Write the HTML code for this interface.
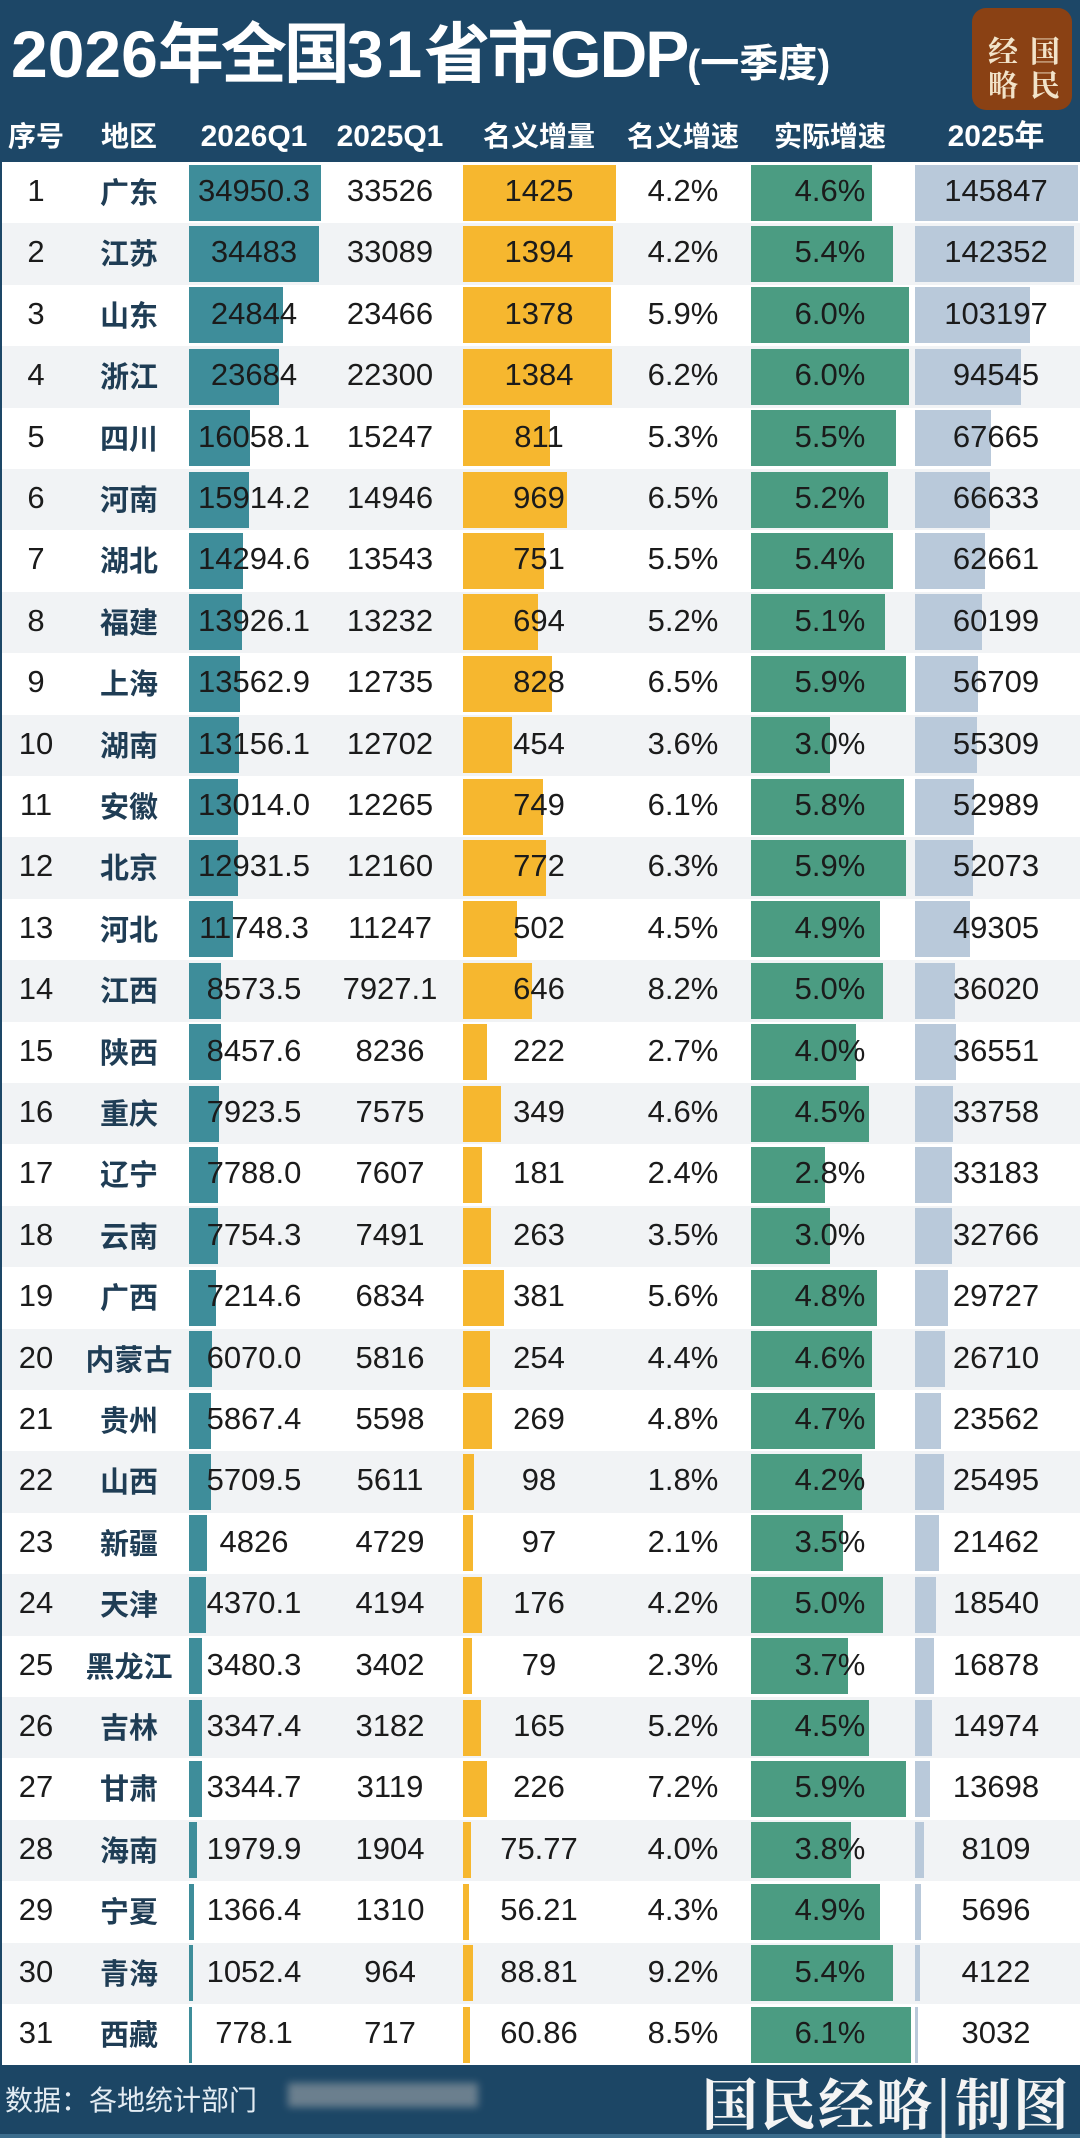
<!DOCTYPE html>
<html><head><meta charset="utf-8">
<style>
*{margin:0;padding:0;box-sizing:border-box}
html,body{width:1080px;height:2138px;overflow:hidden;background:#fff}
body{position:relative;font-family:"Liberation Sans","Noto Sans CJK SC",sans-serif}
#hd{position:absolute;left:0;top:0;width:1080px;height:162px;background:#1d4767}
#title{position:absolute;left:11px;top:21px;white-space:nowrap;color:#fff;font-weight:bold;font-size:66px;line-height:66px;font-family:"Liberation Sans","Noto Sans CJK SC",sans-serif}
#title .c{letter-spacing:-3px}
#title .s{font-size:39px;letter-spacing:0}
#logo{position:absolute;left:972px;top:8px;width:100px;height:102px;border-radius:14px;background:#8a4114}
#logo span{position:absolute;width:34px;text-align:center;font-family:"Noto Serif CJK SC","Liberation Serif",serif;font-size:30px;line-height:34px;color:#f2e3c9;font-weight:bold}
.hl{position:absolute;top:112px;height:50px;line-height:50px;text-align:center;color:#fff;font-weight:bold;font-size:30px;white-space:nowrap}
.hl.k{font-size:28px}
#lb{position:absolute;left:0;top:162px;width:2px;height:1903px;background:#1d4767;z-index:5}
.r{position:absolute;left:0;width:1080px;height:61.4px}
.r.g{background:#f1f3f5}
.b{position:absolute;top:2.5px;height:56px;display:block}
.bt{left:189px;background:#3e8d9a}
.bo{left:463px;background:#f6b72f}
.bg{left:751px;background:#4b9c82}
.bl{left:915px;background:#b9c9da}
.r span{position:absolute;top:0;height:61px;line-height:58px;text-align:center;white-space:nowrap;font-size:31px;color:#1b1b1b}
.n0{left:0;width:72px}
.r span.n1{left:74px;width:110px;font-family:"Noto Sans CJK SC",sans-serif;font-weight:bold;font-size:29px;color:#1f3d55}
.n2{left:174px;width:160px}
.n3{left:310px;width:160px}
.n4{left:459px;width:160px}
.n5{left:603px;width:160px}
.n6{left:750px;width:160px}
.n7{left:916px;width:160px}
#ft{position:absolute;left:0;top:2065px;width:1080px;height:73px;background:#1c4665;border-bottom:4px solid #3b6c8c}
#src{position:absolute;left:5px;top:14px;font-family:"Noto Sans CJK SC",sans-serif;font-size:28px;line-height:40px;color:#e3ecf3;white-space:nowrap}
#blur{position:absolute;left:288px;top:18px;width:190px;height:24px;background:#7f8e99;filter:blur(4px);opacity:.8}
#brand{position:absolute;left:702px;top:6px;font-family:"Noto Serif CJK SC","Liberation Serif",serif;font-weight:bold;font-size:56px;line-height:62px;color:#f4f4f4;letter-spacing:2px;white-space:nowrap}
</style></head><body>
<div id="hd">
<div id="title">2026<span class="c">年全国</span><span style="letter-spacing:2px">31</span><span class="c">省市</span><span style="letter-spacing:-2px">GDP</span><span class="s">(一季度)</span></div>
<div id="logo"><span style="left:14px;top:24px">经</span><span style="left:56px;top:24px">国</span><span style="left:14px;top:58px">略</span><span style="left:56px;top:58px">民</span></div>
<div class="hl k" style="left:0;width:72px">序号</div>
<div class="hl k" style="left:74px;width:110px">地区</div>
<div class="hl" style="left:174px;width:160px">2026Q1</div>
<div class="hl" style="left:310px;width:160px">2025Q1</div>
<div class="hl k" style="left:459px;width:160px">名义增量</div>
<div class="hl k" style="left:603px;width:160px">名义增速</div>
<div class="hl k" style="left:750px;width:160px">实际增速</div>
<div class="hl" style="left:916px;width:160px">2025年</div>
</div>

<div class="r" style="top:162px"><i class="b bt" style="width:132px"></i><i class="b bo" style="width:153px"></i><i class="b bg" style="width:121px"></i><i class="b bl" style="width:163px"></i><span class="n0">1</span><span class="n1">广东</span><span class="n2">34950.3</span><span class="n3">33526</span><span class="n4">1425</span><span class="n5">4.2%</span><span class="n6">4.6%</span><span class="n7">145847</span></div>
<div class="r g" style="top:223.4px"><i class="b bt" style="width:130.2px"></i><i class="b bo" style="width:149.7px"></i><i class="b bg" style="width:142px"></i><i class="b bl" style="width:159.1px"></i><span class="n0">2</span><span class="n1">江苏</span><span class="n2">34483</span><span class="n3">33089</span><span class="n4">1394</span><span class="n5">4.2%</span><span class="n6">5.4%</span><span class="n7">142352</span></div>
<div class="r" style="top:284.8px"><i class="b bt" style="width:93.8px"></i><i class="b bo" style="width:148px"></i><i class="b bg" style="width:157.8px"></i><i class="b bl" style="width:115.3px"></i><span class="n0">3</span><span class="n1">山东</span><span class="n2">24844</span><span class="n3">23466</span><span class="n4">1378</span><span class="n5">5.9%</span><span class="n6">6.0%</span><span class="n7">103197</span></div>
<div class="r g" style="top:346.2px"><i class="b bt" style="width:89.5px"></i><i class="b bo" style="width:148.6px"></i><i class="b bg" style="width:157.8px"></i><i class="b bl" style="width:105.7px"></i><span class="n0">4</span><span class="n1">浙江</span><span class="n2">23684</span><span class="n3">22300</span><span class="n4">1384</span><span class="n5">6.2%</span><span class="n6">6.0%</span><span class="n7">94545</span></div>
<div class="r" style="top:407.6px"><i class="b bt" style="width:60.7px"></i><i class="b bo" style="width:87.1px"></i><i class="b bg" style="width:144.7px"></i><i class="b bl" style="width:75.6px"></i><span class="n0">5</span><span class="n1">四川</span><span class="n2">16058.1</span><span class="n3">15247</span><span class="n4">811</span><span class="n5">5.3%</span><span class="n6">5.5%</span><span class="n7">67665</span></div>
<div class="r g" style="top:469px"><i class="b bt" style="width:60.1px"></i><i class="b bo" style="width:104.1px"></i><i class="b bg" style="width:136.8px"></i><i class="b bl" style="width:74.5px"></i><span class="n0">6</span><span class="n1">河南</span><span class="n2">15914.2</span><span class="n3">14946</span><span class="n4">969</span><span class="n5">6.5%</span><span class="n6">5.2%</span><span class="n7">66633</span></div>
<div class="r" style="top:530.4px"><i class="b bt" style="width:54px"></i><i class="b bo" style="width:80.7px"></i><i class="b bg" style="width:142px"></i><i class="b bl" style="width:70px"></i><span class="n0">7</span><span class="n1">湖北</span><span class="n2">14294.6</span><span class="n3">13543</span><span class="n4">751</span><span class="n5">5.5%</span><span class="n6">5.4%</span><span class="n7">62661</span></div>
<div class="r g" style="top:591.8px"><i class="b bt" style="width:52.6px"></i><i class="b bo" style="width:74.5px"></i><i class="b bg" style="width:134.1px"></i><i class="b bl" style="width:67.3px"></i><span class="n0">8</span><span class="n1">福建</span><span class="n2">13926.1</span><span class="n3">13232</span><span class="n4">694</span><span class="n5">5.2%</span><span class="n6">5.1%</span><span class="n7">60199</span></div>
<div class="r" style="top:653.2px"><i class="b bt" style="width:51.2px"></i><i class="b bo" style="width:88.9px"></i><i class="b bg" style="width:155.2px"></i><i class="b bl" style="width:63.4px"></i><span class="n0">9</span><span class="n1">上海</span><span class="n2">13562.9</span><span class="n3">12735</span><span class="n4">828</span><span class="n5">6.5%</span><span class="n6">5.9%</span><span class="n7">56709</span></div>
<div class="r g" style="top:714.6px"><i class="b bt" style="width:49.7px"></i><i class="b bo" style="width:48.8px"></i><i class="b bg" style="width:78.9px"></i><i class="b bl" style="width:61.8px"></i><span class="n0">10</span><span class="n1">湖南</span><span class="n2">13156.1</span><span class="n3">12702</span><span class="n4">454</span><span class="n5">3.6%</span><span class="n6">3.0%</span><span class="n7">55309</span></div>
<div class="r" style="top:776px"><i class="b bt" style="width:49.2px"></i><i class="b bo" style="width:80.4px"></i><i class="b bg" style="width:152.5px"></i><i class="b bl" style="width:59.2px"></i><span class="n0">11</span><span class="n1">安徽</span><span class="n2">13014.0</span><span class="n3">12265</span><span class="n4">749</span><span class="n5">6.1%</span><span class="n6">5.8%</span><span class="n7">52989</span></div>
<div class="r g" style="top:837.4px"><i class="b bt" style="width:48.8px"></i><i class="b bo" style="width:82.9px"></i><i class="b bg" style="width:155.2px"></i><i class="b bl" style="width:58.2px"></i><span class="n0">12</span><span class="n1">北京</span><span class="n2">12931.5</span><span class="n3">12160</span><span class="n4">772</span><span class="n5">6.3%</span><span class="n6">5.9%</span><span class="n7">52073</span></div>
<div class="r" style="top:898.8px"><i class="b bt" style="width:44.4px"></i><i class="b bo" style="width:53.9px"></i><i class="b bg" style="width:128.9px"></i><i class="b bl" style="width:55.1px"></i><span class="n0">13</span><span class="n1">河北</span><span class="n2">11748.3</span><span class="n3">11247</span><span class="n4">502</span><span class="n5">4.5%</span><span class="n6">4.9%</span><span class="n7">49305</span></div>
<div class="r g" style="top:960.2px"><i class="b bt" style="width:32.4px"></i><i class="b bo" style="width:69.4px"></i><i class="b bg" style="width:131.5px"></i><i class="b bl" style="width:40.3px"></i><span class="n0">14</span><span class="n1">江西</span><span class="n2">8573.5</span><span class="n3">7927.1</span><span class="n4">646</span><span class="n5">8.2%</span><span class="n6">5.0%</span><span class="n7">36020</span></div>
<div class="r" style="top:1021.6px"><i class="b bt" style="width:31.9px"></i><i class="b bo" style="width:23.8px"></i><i class="b bg" style="width:105.2px"></i><i class="b bl" style="width:40.8px"></i><span class="n0">15</span><span class="n1">陕西</span><span class="n2">8457.6</span><span class="n3">8236</span><span class="n4">222</span><span class="n5">2.7%</span><span class="n6">4.0%</span><span class="n7">36551</span></div>
<div class="r g" style="top:1083px"><i class="b bt" style="width:29.9px"></i><i class="b bo" style="width:37.5px"></i><i class="b bg" style="width:118.4px"></i><i class="b bl" style="width:37.7px"></i><span class="n0">16</span><span class="n1">重庆</span><span class="n2">7923.5</span><span class="n3">7575</span><span class="n4">349</span><span class="n5">4.6%</span><span class="n6">4.5%</span><span class="n7">33758</span></div>
<div class="r" style="top:1144.4px"><i class="b bt" style="width:29.4px"></i><i class="b bo" style="width:19.4px"></i><i class="b bg" style="width:73.6px"></i><i class="b bl" style="width:37.1px"></i><span class="n0">17</span><span class="n1">辽宁</span><span class="n2">7788.0</span><span class="n3">7607</span><span class="n4">181</span><span class="n5">2.4%</span><span class="n6">2.8%</span><span class="n7">33183</span></div>
<div class="r g" style="top:1205.8px"><i class="b bt" style="width:29.3px"></i><i class="b bo" style="width:28.2px"></i><i class="b bg" style="width:78.9px"></i><i class="b bl" style="width:36.6px"></i><span class="n0">18</span><span class="n1">云南</span><span class="n2">7754.3</span><span class="n3">7491</span><span class="n4">263</span><span class="n5">3.5%</span><span class="n6">3.0%</span><span class="n7">32766</span></div>
<div class="r" style="top:1267.2px"><i class="b bt" style="width:27.2px"></i><i class="b bo" style="width:40.9px"></i><i class="b bg" style="width:126.2px"></i><i class="b bl" style="width:33.2px"></i><span class="n0">19</span><span class="n1">广西</span><span class="n2">7214.6</span><span class="n3">6834</span><span class="n4">381</span><span class="n5">5.6%</span><span class="n6">4.8%</span><span class="n7">29727</span></div>
<div class="r g" style="top:1328.6px"><i class="b bt" style="width:22.9px"></i><i class="b bo" style="width:27.3px"></i><i class="b bg" style="width:121px"></i><i class="b bl" style="width:29.9px"></i><span class="n0">20</span><span class="n1">内蒙古</span><span class="n2">6070.0</span><span class="n3">5816</span><span class="n4">254</span><span class="n5">4.4%</span><span class="n6">4.6%</span><span class="n7">26710</span></div>
<div class="r" style="top:1390px"><i class="b bt" style="width:22.2px"></i><i class="b bo" style="width:28.9px"></i><i class="b bg" style="width:123.6px"></i><i class="b bl" style="width:26.3px"></i><span class="n0">21</span><span class="n1">贵州</span><span class="n2">5867.4</span><span class="n3">5598</span><span class="n4">269</span><span class="n5">4.8%</span><span class="n6">4.7%</span><span class="n7">23562</span></div>
<div class="r g" style="top:1451.4px"><i class="b bt" style="width:21.6px"></i><i class="b bo" style="width:10.5px"></i><i class="b bg" style="width:110.5px"></i><i class="b bl" style="width:28.5px"></i><span class="n0">22</span><span class="n1">山西</span><span class="n2">5709.5</span><span class="n3">5611</span><span class="n4">98</span><span class="n5">1.8%</span><span class="n6">4.2%</span><span class="n7">25495</span></div>
<div class="r" style="top:1512.8px"><i class="b bt" style="width:18.2px"></i><i class="b bo" style="width:10.4px"></i><i class="b bg" style="width:92.1px"></i><i class="b bl" style="width:24px"></i><span class="n0">23</span><span class="n1">新疆</span><span class="n2">4826</span><span class="n3">4729</span><span class="n4">97</span><span class="n5">2.1%</span><span class="n6">3.5%</span><span class="n7">21462</span></div>
<div class="r g" style="top:1574.2px"><i class="b bt" style="width:16.5px"></i><i class="b bo" style="width:18.9px"></i><i class="b bg" style="width:131.5px"></i><i class="b bl" style="width:20.7px"></i><span class="n0">24</span><span class="n1">天津</span><span class="n2">4370.1</span><span class="n3">4194</span><span class="n4">176</span><span class="n5">4.2%</span><span class="n6">5.0%</span><span class="n7">18540</span></div>
<div class="r" style="top:1635.6px"><i class="b bt" style="width:13.1px"></i><i class="b bo" style="width:8.5px"></i><i class="b bg" style="width:97.3px"></i><i class="b bl" style="width:18.9px"></i><span class="n0">25</span><span class="n1">黑龙江</span><span class="n2">3480.3</span><span class="n3">3402</span><span class="n4">79</span><span class="n5">2.3%</span><span class="n6">3.7%</span><span class="n7">16878</span></div>
<div class="r g" style="top:1697px"><i class="b bt" style="width:12.6px"></i><i class="b bo" style="width:17.7px"></i><i class="b bg" style="width:118.4px"></i><i class="b bl" style="width:16.7px"></i><span class="n0">26</span><span class="n1">吉林</span><span class="n2">3347.4</span><span class="n3">3182</span><span class="n4">165</span><span class="n5">5.2%</span><span class="n6">4.5%</span><span class="n7">14974</span></div>
<div class="r" style="top:1758.4px"><i class="b bt" style="width:12.6px"></i><i class="b bo" style="width:24.3px"></i><i class="b bg" style="width:155.2px"></i><i class="b bl" style="width:15.3px"></i><span class="n0">27</span><span class="n1">甘肃</span><span class="n2">3344.7</span><span class="n3">3119</span><span class="n4">226</span><span class="n5">7.2%</span><span class="n6">5.9%</span><span class="n7">13698</span></div>
<div class="r g" style="top:1819.8px"><i class="b bt" style="width:7.5px"></i><i class="b bo" style="width:8.1px"></i><i class="b bg" style="width:99.9px"></i><i class="b bl" style="width:9.1px"></i><span class="n0">28</span><span class="n1">海南</span><span class="n2">1979.9</span><span class="n3">1904</span><span class="n4">75.77</span><span class="n5">4.0%</span><span class="n6">3.8%</span><span class="n7">8109</span></div>
<div class="r" style="top:1881.2px"><i class="b bt" style="width:5.2px"></i><i class="b bo" style="width:6px"></i><i class="b bg" style="width:128.9px"></i><i class="b bl" style="width:6.4px"></i><span class="n0">29</span><span class="n1">宁夏</span><span class="n2">1366.4</span><span class="n3">1310</span><span class="n4">56.21</span><span class="n5">4.3%</span><span class="n6">4.9%</span><span class="n7">5696</span></div>
<div class="r g" style="top:1942.6px"><i class="b bt" style="width:4px"></i><i class="b bo" style="width:9.5px"></i><i class="b bg" style="width:142px"></i><i class="b bl" style="width:4.6px"></i><span class="n0">30</span><span class="n1">青海</span><span class="n2">1052.4</span><span class="n3">964</span><span class="n4">88.81</span><span class="n5">9.2%</span><span class="n6">5.4%</span><span class="n7">4122</span></div>
<div class="r" style="top:2004px"><i class="b bt" style="width:3px"></i><i class="b bo" style="width:6.5px"></i><i class="b bg" style="width:160.4px"></i><i class="b bl" style="width:3.4px"></i><span class="n0">31</span><span class="n1">西藏</span><span class="n2">778.1</span><span class="n3">717</span><span class="n4">60.86</span><span class="n5">8.5%</span><span class="n6">6.1%</span><span class="n7">3032</span></div>
<div id="lb"></div>

<div id="ft">
<div id="src">数据：各地统计部门</div>
<div id="blur"></div>
<div id="brand">国民经略|制图</div>
</div>
</body></html>
